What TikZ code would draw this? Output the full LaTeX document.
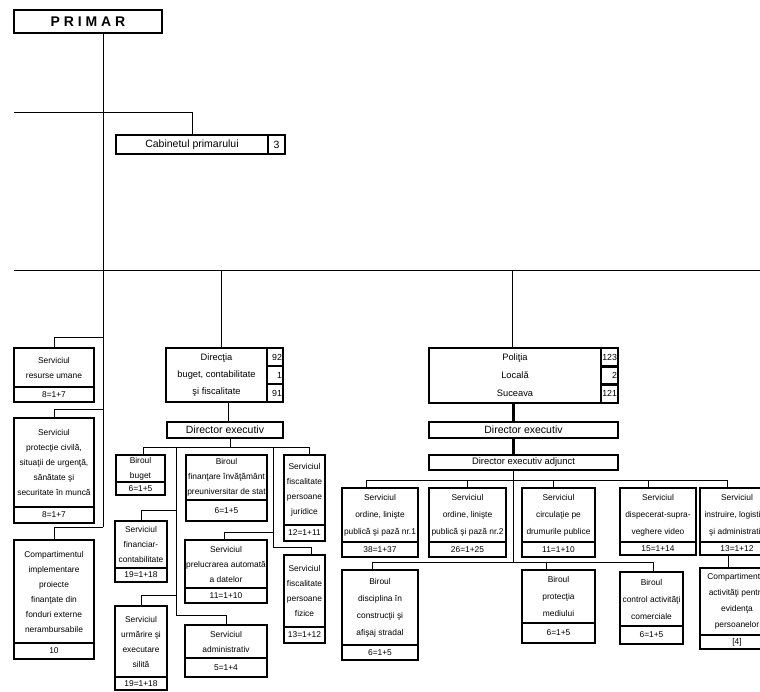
\documentclass[tikz,border=0pt]{standalone}
\usepackage{fontspec}
\setmainfont{Liberation Sans}
\usetikzlibrary{positioning}

\tikzset{
  unit/.style={draw=black, line width=2.6pt, inner sep=1pt, outer sep=0pt, align=center, font=\fontsize{8.4}{15}\selectfont},
  loose/.style={font=\fontsize{8.4}{17}\selectfont},
  num/.style={unit, text width=14pt, align=right, inner xsep=1pt, font=\fontsize{8.8}{11}\selectfont},
  link/.style={line width=0.9pt},
  heavy/.style={line width=3pt},
}

\begin{document}
\begin{tikzpicture}[x=1pt,y=-1pt]
\useasboundingbox (0,0) rectangle (760,691);

% primar, cabinet
\node[unit, line width=2.8pt, minimum width=148pt, minimum height=23pt, font=\fontsize{14}{16}\selectfont\bfseries] (primar) at (88,21.5) {P R I M A R};
\node[unit, minimum width=152pt, minimum height=19pt, font=\fontsize{10.5}{12}\selectfont] (cab) at (192,144.5) {Cabinetul primarului};
\node[unit, minimum width=17pt, minimum height=19pt, font=\fontsize{10.5}{12}\selectfont, right=0pt of cab] (cabN) {3};

\coordinate (sp) at (103,527);
\coordinate (b1) at (14,112);
\coordinate (b2) at (14,270);
\coordinate (b2e) at (760,270);

% left column
\node[unit, minimum width=80pt, minimum height=39pt] (rsu) at (54,367.5) {Serviciul\\resurse umane};
\node[unit, minimum width=80pt, minimum height=15pt, below=0pt of rsu] (rsuN) {8=1+7};
\node[unit, minimum width=80pt, minimum height=89pt] (pc) at (54,462.5) {Serviciul\\protecţie civilă,\\situaţii de urgenţă,\\sănătate şi\\securitate în muncă};
\node[unit, minimum width=80pt, minimum height=16pt, below=0pt of pc] (pcN) {8=1+7};
\node[unit, minimum width=80pt, minimum height=103pt] (comp) at (54,591.5) {Compartimentul\\implementare\\proiecte\\finanţate din\\fonduri externe\\nerambursabile};
\node[unit, minimum width=80pt, minimum height=16pt, below=0pt of comp] (compN) {10};

% directia
\node[unit, minimum width=101pt, minimum height=54pt, font=\fontsize{9.3}{17}\selectfont] (dir) at (216.5,375) {Direcţia\\buget, contabilitate\\şi fiscalitate};
\node[num, minimum height=18pt, anchor=north west] (dirA) at (dir.north east) {92};
\node[num, minimum height=18pt, below=0pt of dirA] (dirB) {1};
\node[num, minimum height=18pt, below=0pt of dirB] (dirC) {91};
\node[unit, minimum width=116pt, minimum height=16pt, font=\fontsize{10.5}{12}\selectfont] (de1) at (225,430) {Director executiv};

\node[unit, minimum width=49pt, minimum height=27pt] (bb) at (140.5,468.5) {Biroul\\buget};
\node[unit, minimum width=49pt, minimum height=13pt, below=0pt of bb] (bbN) {6=1+5};
\node[unit, minimum width=81pt, minimum height=45pt] (bf) at (226.5,477.5) {Biroul\\finanţare învăţământ\\preuniversitar de stat};
\node[unit, minimum width=81pt, minimum height=21pt, below=0pt of bf] (bfN) {6=1+5};
\node[unit, minimum width=41pt, minimum height=70pt] (sfj) at (304.5,490) {Serviciul\\fiscalitate\\persoane\\juridice};
\node[unit, minimum width=41pt, minimum height=16pt, below=0pt of sfj] (sfjN) {12=1+11};
\node[unit, minimum width=52pt, minimum height=47pt] (sfc) at (141,544.5) {Serviciul\\financiar-\\contabilitate};
\node[unit, minimum width=52pt, minimum height=14pt, below=0pt of sfc] (sfcN) {19=1+18};
\node[unit, minimum width=82pt, minimum height=48pt] (spa) at (226,564) {Serviciul\\prelucrarea automată\\a datelor};
\node[unit, minimum width=82pt, minimum height=15pt, below=0pt of spa] (spaN) {11=1+10};
\node[unit, minimum width=41pt, minimum height=72pt] (sff) at (304.5,591) {Serviciul\\fiscalitate\\persoane\\fizice};
\node[unit, minimum width=41pt, minimum height=16pt, below=0pt of sff] (sffN) {13=1+12};
\node[unit, minimum width=52pt, minimum height=71pt] (sum) at (141,641.5) {Serviciul\\urmărire şi\\executare\\silită};
\node[unit, minimum width=52pt, minimum height=13pt, below=0pt of sum] (sumN) {19=1+18};
\node[unit, minimum width=82pt, minimum height=33pt] (sadm) at (226,641.5) {Serviciul\\administrativ};
\node[unit, minimum width=82pt, minimum height=19pt, below=0pt of sadm] (sadmN) {5=1+4};

% politia
\node[unit, minimum width=172pt, minimum height=55pt, font=\fontsize{9.3}{18}\selectfont] (pol) at (515,375.5) {Poliţia\\Locală\\Suceava};
\node[num, text width=15pt, minimum height=18.33pt, anchor=north west] (polA) at (pol.north east) {123};
\node[num, text width=15pt, minimum height=18.33pt, below=0pt of polA] (polB) {2};
\node[num, text width=15pt, minimum height=18.33pt, below=0pt of polB] (polC) {121};
\node[unit, minimum width=189pt, minimum height=16pt, font=\fontsize{10.5}{12}\selectfont] (de2) at (523.5,430) {Director executiv};
\node[unit, minimum width=189pt, minimum height=15pt, font=\fontsize{9.4}{11}\selectfont] (dea) at (523.5,462.5) {Director executiv adjunct};

\node[unit, loose, minimum width=76pt, minimum height=54pt] (s1) at (380,515) {Serviciul\\ordine, linişte\\publică şi pază nr.1};
\node[unit, minimum width=76pt, minimum height=15pt, below=0pt of s1] (s1N) {38=1+37};
\node[unit, loose, minimum width=77pt, minimum height=54pt] (s2) at (467.5,515) {Serviciul\\ordine, linişte\\publică şi pază nr.2};
\node[unit, minimum width=77pt, minimum height=15pt, below=0pt of s2] (s2N) {26=1+25};
\node[unit, loose, minimum width=73pt, minimum height=54pt] (s3) at (558.5,515) {Serviciul\\circulaţie pe\\drumurile publice};
\node[unit, minimum width=73pt, minimum height=15pt, below=0pt of s3] (s3N) {11=1+10};
\node[unit, loose, minimum width=76pt, minimum height=54pt] (s4) at (658,515) {Serviciul\\dispecerat-supra-\\veghere video};
\node[unit, minimum width=76pt, minimum height=13pt, below=0pt of s4] (s4N) {15=1+14};
\node[unit, loose, minimum width=74pt, minimum height=54pt] (s5) at (737,515) {Serviciul\\instruire, logistică\\şi administrativ};
\node[unit, minimum width=74pt, minimum height=13pt, below=0pt of s5] (s5N) {13=1+12};

\node[unit, loose, minimum width=76pt, minimum height=75pt] (bd) at (380,607.5) {Biroul\\disciplina în\\construcţii şi\\afişaj stradal};
\node[unit, minimum width=76pt, minimum height=15pt, below=0pt of bd] (bdN) {6=1+5};
\node[unit, loose, minimum width=73pt, minimum height=53pt] (bp) at (558.5,596.5) {Biroul\\protecţia\\mediului};
\node[unit, minimum width=73pt, minimum height=20pt, below=0pt of bp] (bpN) {6=1+5};
\node[unit, loose, minimum width=63pt, minimum height=54pt] (bc) at (651.5,599) {Biroul\\control activităţi\\comerciale};
\node[unit, minimum width=63pt, minimum height=18pt, below=0pt of bc] (bcN) {6=1+5};
\node[unit, font=\fontsize{8.4}{16}\selectfont, minimum width=74pt, minimum height=67pt] (cae) at (737,601.5) {Compartimentul\\activităţi pentru\\evidenţa\\persoanelor};
\node[unit, minimum width=74pt, minimum height=14pt, below=0pt of cae] (caeN) {[4]};

% connectors
\draw[link] (primar.south -| sp) -- (sp);
\draw[link] (b1) -| (cab.north);
\draw[link] (b2) -- (b2e);
\draw[link] (rsu.north) -- ++(0,-11) -| (sp);
\draw[link] (pc.north) -- ++(0,-9) -| (sp);
\draw[link] (comp.north) -- ++(0,-13) -| (sp);

\draw[link] ([xshift=4.5pt]dir.north) -- ++(0,-78);
\draw[link] ([xshift=3pt]de1.north) -- ++(0,-20);
\draw[link] ([xshift=5pt]de1.south) -- ++(0,9);
\draw[link] ([xshift=2.5pt]bb.north) -- ++(0,-8) -| ([xshift=4.5pt]sfj.north);
\coordinate (la) at (176,447);
\coordinate (lb) at (273,447);
\draw[link] (sfc.north) -- ++(0,-11) -| (la);
\draw[link] (sum.north) -- ++(0,-11) -| (la);
\draw[link] (sadm.north) -- ++(0,-10) -| (la);
\draw[link] ([xshift=-2pt]spa.north) -- ++(0,-8) -| (lb);
\draw[link] ([xshift=6.5pt]sff.north) -- ++(0,-8) -| (lb);

\draw[link] ([xshift=-3pt]pol.north) -- ++(0,-78);
\draw[heavy] ([xshift=-2pt]pol.south) -- ++(0,19);
\draw[heavy] ([xshift=-10.5pt]de2.south) -- ++(0,17);
\draw[link] ([xshift=-10.5pt]dea.south) -- ++(0,92);
\draw[link] ([xshift=-14pt]s1.north) -- ++(0,-8) -| ([xshift=-10pt]s5.north);
\draw[link] (s2.north) -- ++(0,-8);
\draw[link] ([xshift=-5.5pt]s3.north) -- ++(0,-8);
\draw[link] ([xshift=-10pt]s4.north) -- ++(0,-8);
\draw[link] ([xshift=-8pt]bd.north) -- ++(0,-8) -| ([xshift=1.5pt]bc.north);
\draw[link] ([xshift=-12.5pt]bp.north) -- ++(0,-8);
\draw[link] ([xshift=-9pt]s5N.south) -- ([xshift=-9pt]cae.north);
\end{tikzpicture}
\end{document}
